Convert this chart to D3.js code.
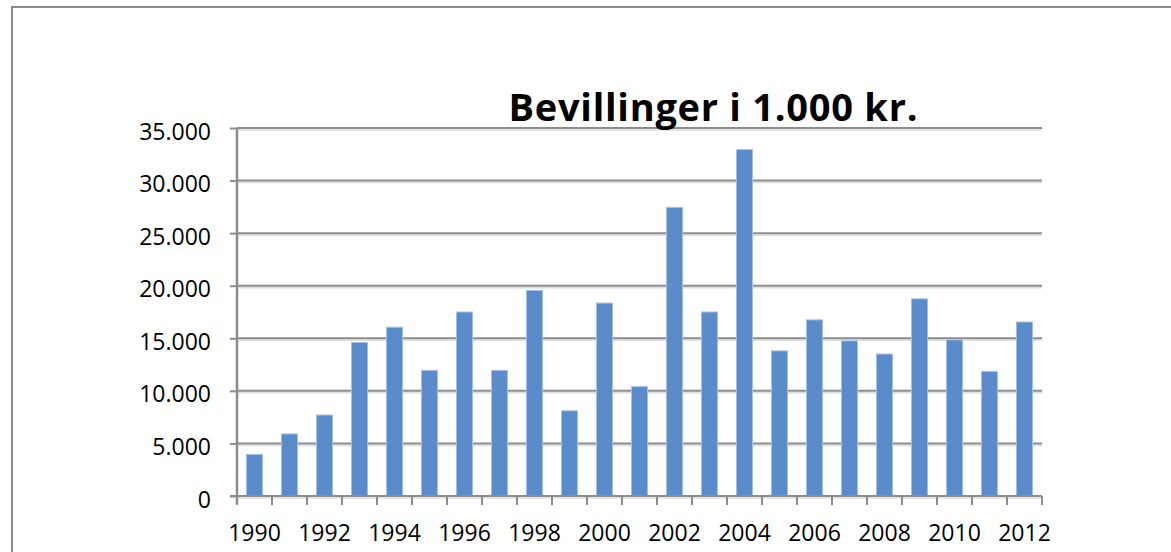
<!DOCTYPE html>
<html>
<head>
<meta charset="utf-8">
<script src="https://cdn.jsdelivr.net/npm/d3@7"></script>
<style>
  html, body { margin: 0; padding: 0; background: #fff; }
  svg { display: block; }
</style>
</head>
<body>
<svg id="chart" width="1171" height="552"></svg>
<script>
const title = "Bevillinger i 1.000 kr.";
const years = [1990, 1991, 1992, 1993, 1994, 1995, 1996, 1997, 1998, 1999, 2000, 2001,
               2002, 2003, 2004, 2005, 2006, 2007, 2008, 2009, 2010, 2011, 2012];
const values = [3950, 5900, 7700, 14600, 16050, 11950, 17500, 11950, 19550, 8100, 18350, 10400,
                27450, 17500, 32950, 13800, 16750, 14750, 13500, 18750, 14850, 11850, 16550];
const yTicks = [0, 5000, 10000, 15000, 20000, 25000, 30000, 35000];
const xLabelYears = [1990, 1992, 1994, 1996, 1998, 2000, 2002, 2004, 2006, 2008, 2010, 2012];

(function () {
const svg = d3.select("#chart");
const font = "'Open Sans', 'Noto Sans', sans-serif";
const mLeft = 237, mRight = 1042, mTop = 128, mBottom = 496;

const nf = d3.formatLocale({decimal: ",", thousands: ".", grouping: [3], currency: ["", ""]}).format(",");

const x = d3.scaleBand().domain(years).range([mLeft, mRight]).paddingInner(0).paddingOuter(0);
const y = d3.scaleLinear().domain([0, 35000]).range([mBottom, mTop]);

// outer border
svg.append("rect")
  .attr("x", 12).attr("y", 7).attr("width", 1200).attr("height", 600)
  .attr("fill", "#fff").attr("stroke", "#8a8a8a").attr("stroke-width", 2);

// gridlines (with light shadow)
const grid = svg.append("g");
yTicks.forEach(t => {
  grid.append("line")
    .attr("x1", mLeft).attr("x2", mRight)
    .attr("y1", y(t) + 2).attr("y2", y(t) + 2)
    .attr("stroke", "#dedede").attr("stroke-width", 1.5);
  grid.append("line")
    .attr("x1", mLeft).attr("x2", mRight)
    .attr("y1", y(t)).attr("y2", y(t))
    .attr("stroke", "#8c8c8c").attr("stroke-width", 2);
});

// y axis
const yAxis = d3.axisLeft(y).tickValues(yTicks).tickSize(7).tickPadding(19).tickFormat(nf);
const gy = svg.append("g").attr("transform", `translate(${mLeft},0)`).call(yAxis);
gy.select(".domain").attr("stroke", "#8c8c8c").attr("stroke-width", 2.5)
  .attr("d", `M0,${mTop}V${mBottom + 8}`);
gy.selectAll(".tick line").attr("stroke", "#8c8c8c").attr("stroke-width", 2);
gy.selectAll(".tick text")
  .attr("font-family", font).attr("font-size", 23).attr("fill", "#000").attr("dy", "0.48em");

// bars
const bw = 16;
svg.append("g").selectAll("rect").data(years).join("rect")
  .attr("x", (d) => x(d) + (x.bandwidth() - bw) / 2)
  .attr("y", (d, i) => y(values[i]))
  .attr("width", bw)
  .attr("height", (d, i) => y(0) - y(values[i]))
  .attr("fill", "#5a8bcb")
  .attr("stroke", "#a3bfe4").attr("stroke-width", 1);

// x axis
const xAxis = d3.axisBottom(x).tickValues(xLabelYears).tickSize(0).tickPadding(29).tickFormat(d3.format("d"));
const gx = svg.append("g").attr("transform", `translate(0,${mBottom})`).call(xAxis);
gx.select(".domain").attr("stroke", "#8c8c8c").attr("stroke-width", 2)
  .attr("d", `M${mLeft - 7},0H${mRight}`);
gx.selectAll(".tick text")
  .attr("font-family", font).attr("font-size", 23).attr("fill", "#000");
// boundary ticks
const bounds = years.map(d => x(d)).concat([x.range()[1]]);
gx.append("g").selectAll("line").data(bounds).join("line")
  .attr("x1", d => d).attr("x2", d => d)
  .attr("y1", 0).attr("y2", 9)
  .attr("stroke", "#8c8c8c").attr("stroke-width", 2);

// title
svg.append("text")
  .attr("x", 713).attr("y", 121)
  .attr("text-anchor", "middle")
  .attr("font-family", font).attr("font-weight", "bold").attr("font-size", 38)
  .attr("textLength", 409).attr("lengthAdjust", "spacing")
  .attr("fill", "#000")
  .text(title);
})();
</script>
</body>
</html>
